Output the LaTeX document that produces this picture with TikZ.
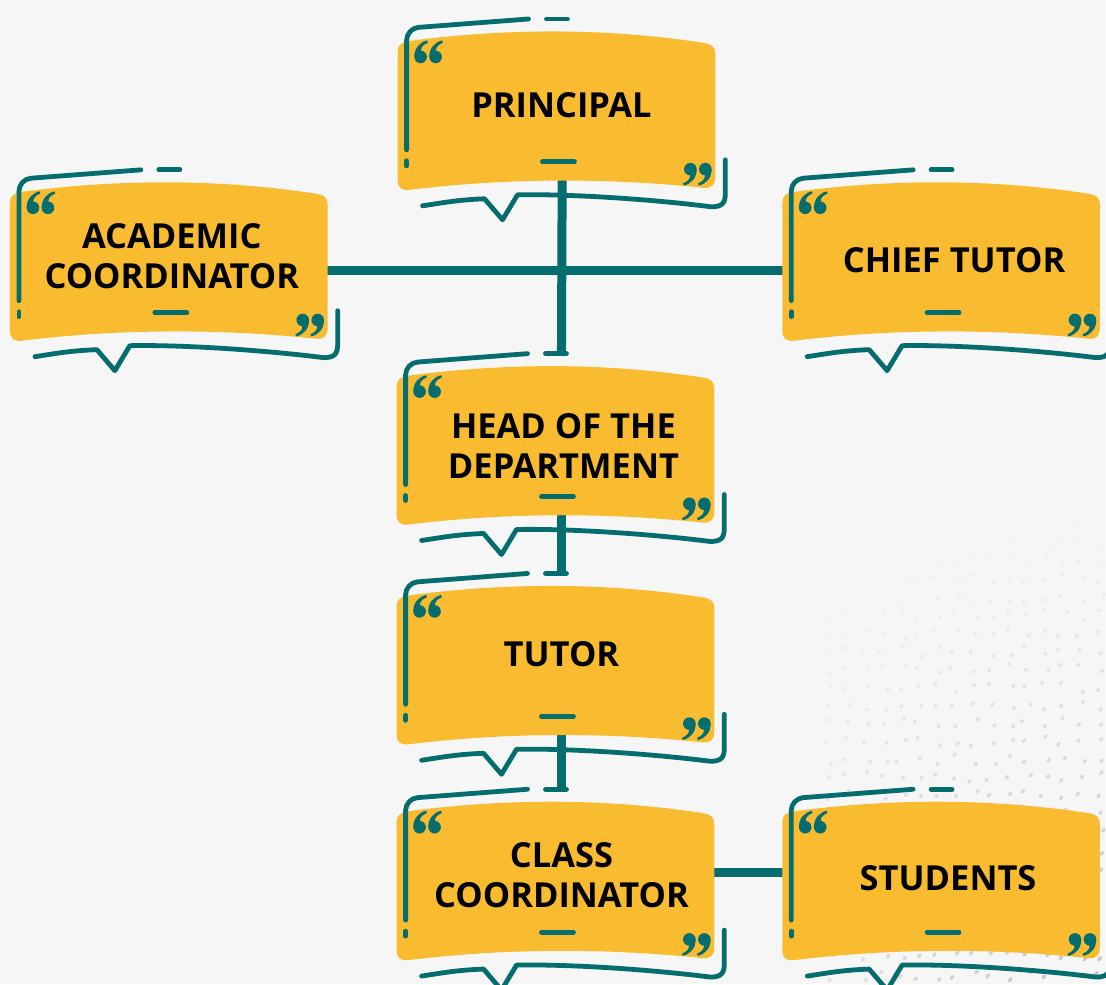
\documentclass[tikz,border=0pt]{standalone}
\usepackage{fontspec}
\setmainfont{Open Sans}
\definecolor{bgc}{HTML}{F6F6F6}
\definecolor{ylw}{HTML}{F9BC30}
\definecolor{tl}{HTML}{056D6E}
\pgfdeclarelayer{back}
\pgfdeclarelayer{bg}
\pgfsetlayers{back,bg,main}
\tikzset{
 boxnode/.style={rectangle, minimum width=318pt, minimum height=171pt, inner sep=0pt},
 lbl/.style={font=\bfseries\fontsize{34.5}{40}\selectfont, align=center, inner sep=0pt, text=black},
 deco/.style={draw=tl, line width=4.8pt, line cap=round, line join=round},
 conn/.style={draw=tl, line width=9pt},
 speck/.style={fill=gray},
 sixq/.pic={
   \fill[tl] (0,0) circle[radius=6.3pt];
   \fill[tl] (-6.3,0) .. controls (-6.3,-9) and (-1,-14.5) .. (6.5,-16.5) -- (7.3,-14.3) .. controls (2,-12) and (0,-9) .. (0.5,-6) -- cycle;
 }
}
\newcommand\orgbubble[3]{%
\begin{scope}[shift={(#2,#3)}]
 \fill[ylw] (0,10) -- (0,138) .. controls (0,146) and (4,149) .. (12,148)
   .. controls (110,136) and (210,136) .. (306,146)
   .. controls (314,147) and (318,143) .. (318,136)
   -- (318,12) .. controls (318,5) and (314,2) .. (307,1)
   .. controls (210,-14) and (110,-14) .. (12,-1)
   .. controls (4,0) and (0,3) .. (0,10) -- cycle;
 \draw[deco, rounded corners=12pt] (131,-23) -- (9,-13.7) -- (9,108);
 \draw[deco] (9,119) -- (9,124);
 \draw[deco] (149,-23) -- (170,-23);
 \draw[deco] (145,120) -- (177,120);
 \draw[deco] (328,118) -- (328,152) .. controls (328,162) and (324,165) .. (314,165)
   .. controls (250,157) and (170,152) .. (120,153) -- (105,178) -- (87,157)
   .. controls (60,158) and (45,161) .. (25,164);
 \pic at (23,15) {sixq};
 \pic at (38,15) {sixq};
 \pic[rotate=180] at (293,127.3) {sixq};
 \pic[rotate=180] at (308,127.3) {sixq};
 \node[boxnode] (#1) at (159,62.5) {};
\end{scope}}
\begin{document}
\begin{tikzpicture}[x=1pt,y=-1pt]
\begin{pgfonlayer}{back}
\fill[bgc] (0,0) rectangle (1106,985);
\pgfmathsetseed{7}
\foreach \i in {0,...,15} {
 \foreach \j in {0,...,32} {
  \pgfmathsetmacro\px{830+\i*18+rand*5}
  \pgfmathsetmacro\py{400+\j*18+rand*5}
  \pgfmathsetmacro\dd{100*veclen((1106-\px)/100,(985-\py)/100)}
  \pgfmathsetmacro\op{max(0,0.42-\dd/1150)}
  \pgfmathsetmacro\rr{2+2.5*\op}
  \fill[speck, opacity=\op, rotate around={50:(\px,\py)}] (\px,\py) ellipse [x radius=\rr pt, y radius=1.8pt];
 }
}
\end{pgfonlayer}
\useasboundingbox (0,0) rectangle (1106,985);
\orgbubble{principal}{398}{42}
\orgbubble{acad}{10}{193}
\orgbubble{chief}{783}{193}
\orgbubble{hod}{397}{377}
\orgbubble{tutor}{397}{597}
\orgbubble{class}{397}{813}
\orgbubble{students}{783}{813}
\node[lbl] (principal-t) at (562,105) {PRINCIPAL};
\node[lbl] (acad-t) at (172,256) {ACADEMIC\\COORDINATOR};
\node[lbl] (chief-t) at (955,260) {CHIEF TUTOR};
\node[lbl] (hod-t) at (564,446.5) {HEAD OF THE\\DEPARTMENT};
\node[lbl] (tutor-t) at (562,655) {TUTOR};
\node[lbl] (class-t) at (562,876) {CLASS\\COORDINATOR};
\node[lbl] (students-t) at (949,879) {STUDENTS};
\begin{pgfonlayer}{bg}
\draw[conn] ([xshift=6pt]principal.center) -- ([xshift=6pt]hod.north);
\draw[conn] ([xshift=6pt]hod.center) -- ([xshift=6pt]tutor.north);
\draw[conn] ([xshift=6pt]tutor.center) -- ([xshift=6pt]class.north);
\draw[conn] ([yshift=-15.5pt]acad.center) -- ([yshift=-15.5pt]chief.center);
\draw[conn] ([yshift=2.5pt]class.center) -- ([yshift=2.5pt]students.center);
\end{pgfonlayer}
\end{tikzpicture}
\end{document}
